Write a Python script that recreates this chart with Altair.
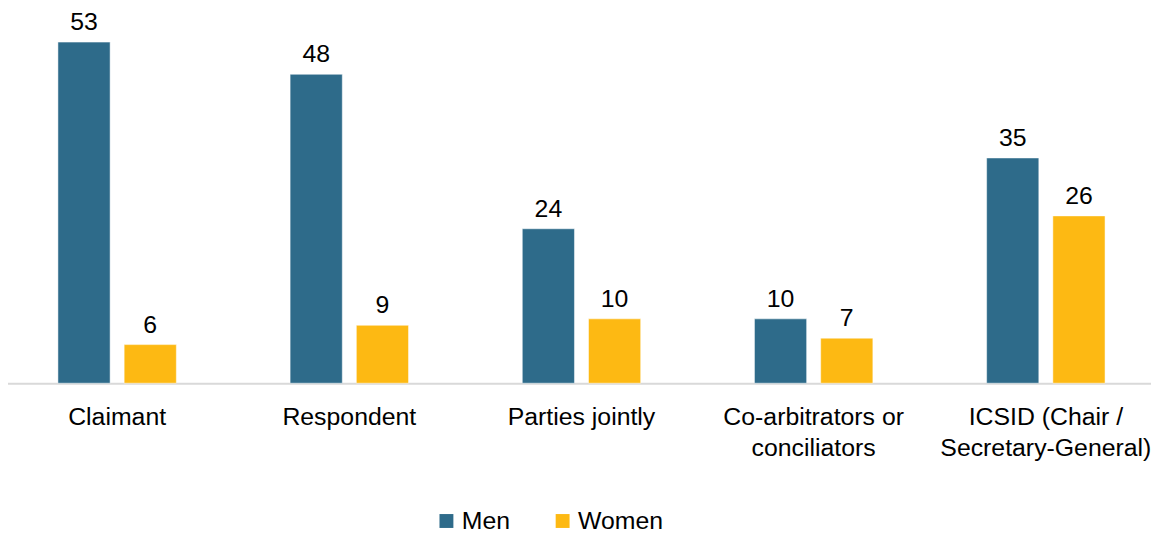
import altair as alt
import pandas as pd

categories = ["Claimant", "Respondent", "Parties jointly",
              "Co-arbitrators or\nconciliators", "ICSID (Chair /\nSecretary-General)"]
men = [53, 48, 24, 10, 35]
women = [6, 9, 10, 7, 26]
series = ["Men", "Women"]
colors = ["#2E6B8A", "#FDB913"]

rows = []
for c, m, w in zip(categories, men, women):
    rows.append({"cat": c, "group": "Men", "value": m})
    rows.append({"cat": c, "group": "Women", "value": w})
df = pd.DataFrame(rows)

FONT = "Liberation Sans"

x = alt.X("cat:N", sort=categories, title=None,
          scale=alt.Scale(range=[-7, 1162], paddingInner=0.49, paddingOuter=0.245),
          axis=alt.Axis(labelAngle=0, labelFontSize=25, labelFont=FONT, labelColor="#000000",
                        labelExpr="split(datum.label, '\\n')", labelLineHeight=31,
                        labelPadding=22, ticks=False, domainColor="#D9D9D9", domainWidth=2,
                        labelLimit=400))
xoff = alt.XOffset("group:N", sort=series,
                   scale=alt.Scale(paddingInner=0.212, paddingOuter=0))
y = alt.Y("value:Q", scale=alt.Scale(domain=[0, 57.4]), axis=None)

bars = alt.Chart(df).mark_bar(stroke="white", strokeWidth=0.5).encode(
    x=x, xOffset=xoff, y=y,
    color=alt.Color("group:N", sort=series,
                    scale=alt.Scale(domain=series, range=colors),
                    legend=alt.Legend(title=None, orient="none", direction="horizontal",
                                      legendX=429, legendY=498, symbolType="square",
                                      symbolSize=196, symbolStrokeWidth=0,
                                      labelFontSize=25, labelFont=FONT, labelColor="#000000",
                                      columnPadding=40, labelOffset=3))
)

labels = alt.Chart(df).mark_text(fontSize=25, font=FONT, color="#000000",
                                 baseline="alphabetic", dy=-12).encode(
    x=x, xOffset=xoff, y=y, text="value:Q"
)

chart = (bars + labels).properties(
    width=1151, height=372,
    autosize=alt.AutoSizeParams(type="none"),
    padding={"left": 0, "top": 4, "right": 0, "bottom": 150},
).configure_view(stroke=None)

chart.save("out.html", embed_options={"renderer": "svg", "actions": False})
